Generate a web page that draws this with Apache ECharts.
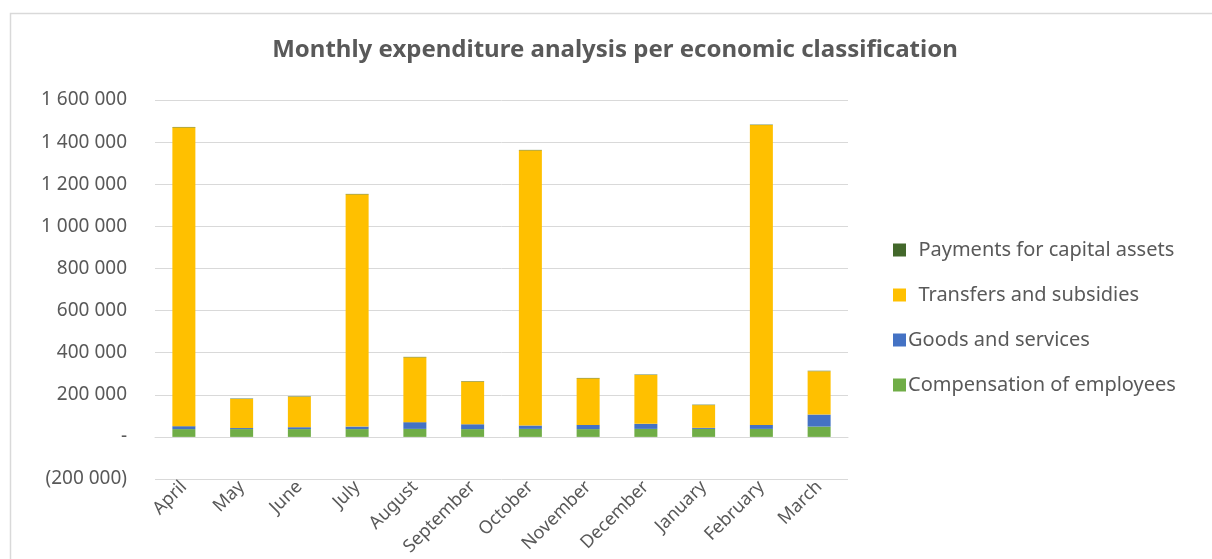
<!DOCTYPE html>
<html>
<head>
<meta charset="utf-8">
<script src="https://cdn.jsdelivr.net/npm/echarts@6/dist/echarts.min.js"></script>
<style>
  html, body { margin: 0; padding: 0; background: #fff; }
  #chart { width: 1212px; height: 559px; }
</style>
</head>
<body>
<div id="chart"></div>
<script>
const months = ['April', 'May', 'June', 'July', 'August', 'September', 'October',
    'November', 'December', 'January', 'February', 'March'];
const compensation = [37000, 37000, 37000, 37000, 38000, 37000, 38000, 37000, 38000, 38000, 38000, 49000];
const goodsServices = [14000, 5000, 9000, 12000, 32000, 23000, 16000, 20000, 24000, 5000, 19000, 57000];
const transfers = [1419000, 138000, 145000, 1103000, 308000, 203000, 1307000, 221000, 232000, 108000, 1424000, 206000];
const capitalAssets = [2000, 2000, 2000, 2000, 2000, 2000, 2000, 2000, 2000, 2000, 2000, 2000];

const textColor = '#595959';
const fontFamily = 'Noto Sans, sans-serif';

function formatAmount(value) {
    if (value === 0) {
        return '-';
    }
    const text = Math.abs(value).toString().replace(/\B(?=(\d{3})+(?!\d))/g, ' ');
    return value < 0 ? '(' + text + ')' : text;
}

function barSeries(name, data, color) {
    return {
        name: name,
        type: 'bar',
        stack: 'total',
        barWidth: 23,
        data: data,
        itemStyle: { color: color }
    };
}

const chart = echarts.init(document.getElementById('chart'));

chart.setOption({
    animation: false,
    textStyle: { fontFamily: fontFamily },
    graphic: [{
        type: 'rect',
        left: 8,
        top: 11,
        shape: { width: 1400, height: 700 },
        style: { fill: 'none', stroke: '#d9d9d9', lineWidth: 1.5 },
        silent: true
    }],
    title: {
        text: 'Monthly expenditure analysis per economic classification',
        left: 610,
        textAlign: 'center',
        top: 33,
        textStyle: { color: textColor, fontSize: 24, fontWeight: 'bold', fontFamily: fontFamily }
    },
    legend: {
        orient: 'vertical',
        left: 888,
        top: 235,
        itemWidth: 13,
        itemHeight: 13,
        itemGap: 25,
        icon: 'rect',
        data: ['Payments for capital assets', 'Transfers and subsidies',
            'Goods and services', 'Compensation of employees'],
        formatter: function (name) {
            if (name === 'Payments for capital assets' || name === 'Transfers and subsidies') {
                return '  ' + name;
            }
            return name;
        },
        textStyle: { color: textColor, fontSize: 20, lineHeight: 20, padding: [0, 0, 0, -3] }
    },
    grid: {
        left: 155,
        right: 364,
        top: 100,
        bottom: 80,
        containLabel: false,
        outerBoundsMode: 'none'
    },
    xAxis: {
        type: 'category',
        data: months,
        axisLine: { onZero: true, lineStyle: { color: '#d9d9d9' } },
        axisTick: { show: false },
        axisLabel: {
            rotate: 45,
            interval: 0,
            margin: 5,
            color: textColor,
            fontSize: 18
        }
    },
    yAxis: {
        type: 'value',
        min: -200000,
        max: 1600000,
        interval: 200000,
        axisLine: { show: false },
        axisTick: { show: false },
        splitLine: { lineStyle: { color: '#d9d9d9', width: 1 } },
        axisLabel: {
            color: textColor,
            fontSize: 19,
            margin: 28,
            formatter: formatAmount
        }
    },
    series: [
        barSeries('Compensation of employees', compensation, '#70AD47'),
        barSeries('Goods and services', goodsServices, '#4472C4'),
        barSeries('Transfers and subsidies', transfers, '#FFC000'),
        barSeries('Payments for capital assets', capitalAssets, '#43682B')
    ]
});
</script>
</body>
</html>
